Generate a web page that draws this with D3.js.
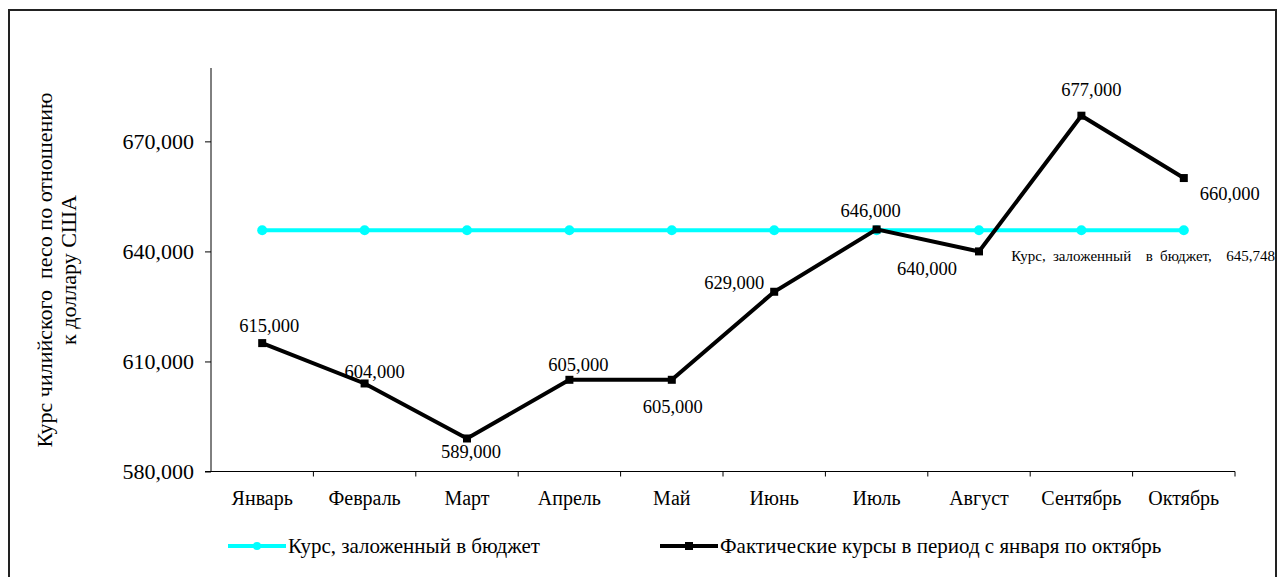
<!DOCTYPE html>
<html>
<head>
<meta charset="utf-8">
<script src="https://cdn.jsdelivr.net/npm/d3@7"></script>
<style>
	body { margin: 0; background: #fff; }
	svg text { font-family: "Liberation Serif", "Times New Roman", serif; fill: #000; }
</style>
</head>
<body>
<div class="line_chart"></div>
<script>
const WIDTH = 1278;
const HEIGHT = 577;
const MARGIN = { top: 68, right: 43, bottom: 106, left: 211 };

// data
const months = ['Январь', 'Февраль', 'Март', 'Апрель', 'Май', 'Июнь', 'Июль', 'Август', 'Сентябрь', 'Октябрь'];
const actual = [615000, 604000, 589000, 605000, 605000, 629000, 646000, 640000, 677000, 660000];
const budget = [645748, 645748, 645748, 645748, 645748, 645748, 645748, 645748, 645748, 645748];
const yTicks = [580000, 610000, 640000, 670000];
const seriesNames = ['Курс, заложенный в бюджет', 'Фактические курсы в период с января по октябрь'];

// where each data label sits relative to its point [dx, dy]
const labelPos = [[7, -11], [10, -5], [4, 20], [9, -9], [1, 33], [-40, -3], [-6, -12], [-52, 24], [10, -20], [46, 22]];

const svg = d3
	.select('.line_chart')
	.append('svg')
	.attr('width', WIDTH)
	.attr('height', HEIGHT);

// outer frame
svg.append('rect')
	.attr('x', 9)
	.attr('y', 10)
	.attr('width', 1267)
	.attr('height', 600)
	.attr('fill', 'none')
	.attr('stroke', '#222')
	.attr('stroke-width', 2);

const xScale = d3
	.scaleBand()
	.domain(months)
	.range([MARGIN.left, WIDTH - MARGIN.right])
	.padding(0);

const yScale = d3
	.scaleLinear()
	.domain([580000, 690000])
	.range([HEIGHT - MARGIN.bottom + 0.5, MARGIN.top]);

const fmt = d3.format(',.0f');
const cx = m => xScale(m) + xScale.bandwidth() / 2;

// axes
const yAxis = d3.axisLeft(yScale).tickValues(yTicks).tickFormat(fmt).tickSize(6).tickPadding(11);
const yG = svg.append('g')
	.attr('transform', `translate(${MARGIN.left}, 0)`)
	.call(yAxis)
	.attr('font-family', null);
yG.select('.domain').attr('d', `M-6,${yScale(580000)}H0V${MARGIN.top}`);
yG.selectAll('text').style('font-size', '22px');

const xAxis = d3.axisBottom(xScale).tickSize(0).tickPadding(19);
const xG = svg.append('g')
	.attr('transform', `translate(0, ${yScale(580000)})`)
	.call(xAxis)
	.attr('font-family', null);
xG.select('.domain').attr('d', `M${MARGIN.left},0H${WIDTH - MARGIN.right}V5`);
xG.selectAll('text').style('font-size', '20px');
svg.append('g')
	.selectAll('line')
	.data(months.slice(1))
	.enter()
	.append('line')
	.attr('x1', d => xScale(d))
	.attr('x2', d => xScale(d))
	.attr('y1', yScale(580000))
	.attr('y2', yScale(580000) + 5)
	.attr('stroke', '#000');
svg.selectAll('.domain, .tick line').attr('stroke', '#000');

// axis title
svg.append('text')
	.attr('transform', 'rotate(-90)')
	.attr('text-anchor', 'middle')
	.style('font-size', '22px')
	.selectAll('tspan')
	.data(['Курс чилийского  песо по отношению', 'к доллару США'])
	.enter()
	.append('tspan')
	.attr('x', -270)
	.attr('y', (d, i) => 52 + i * 24)
	.attr('xml:space', 'preserve')
	.text(d => d);

// budget line
const line = d3.line().x((d, i) => cx(months[i])).y(d => yScale(d));

svg.append('path')
	.datum(budget)
	.attr('d', line)
	.attr('fill', 'none')
	.attr('stroke', '#00ffff')
	.attr('stroke-width', 4);

svg.append('g')
	.selectAll('circle')
	.data(budget)
	.enter()
	.append('circle')
	.attr('cx', (d, i) => cx(months[i]))
	.attr('cy', d => yScale(d))
	.attr('r', 5)
	.attr('fill', '#00ffff');

// actual line
svg.append('path')
	.datum(actual)
	.attr('d', line)
	.attr('fill', 'none')
	.attr('stroke', '#000')
	.attr('stroke-width', 4)
	.attr('stroke-linejoin', 'miter');

svg.append('g')
	.selectAll('rect')
	.data(actual)
	.enter()
	.append('rect')
	.attr('x', (d, i) => cx(months[i]) - 4)
	.attr('y', d => yScale(d) - 4)
	.attr('width', 8)
	.attr('height', 8)
	.attr('fill', '#000');

// data labels
svg.append('g')
	.selectAll('text')
	.data(actual)
	.enter()
	.append('text')
	.attr('x', (d, i) => cx(months[i]) + labelPos[i][0])
	.attr('y', (d, i) => yScale(d) + labelPos[i][1])
	.attr('text-anchor', 'middle')
	.style('font-size', '18.5px')
	.text(d => fmt(d));

// budget label, last point
svg.append('text')
	.attr('x', WIDTH - 3)
	.attr('y', yScale(budget[budget.length - 1]) + 31)
	.attr('text-anchor', 'end')
	.attr('xml:space', 'preserve')
	.style('font-size', '15px')
	.style('word-spacing', '3.5px')
	.text('Курс, заложенный  в бюджет,  ' + d3.format(',')(budget[budget.length - 1]));

// legend
const legend = svg.append('g').attr('transform', 'translate(0, 546)');
const legendX = [228, 660];
const lg = legend.selectAll('g')
	.data(seriesNames)
	.enter()
	.append('g')
	.attr('transform', (d, i) => `translate(${legendX[i]}, 0)`);
lg.append('line')
	.attr('x1', 0)
	.attr('x2', 58)
	.attr('stroke', (d, i) => i ? '#000' : '#00ffff')
	.attr('stroke-width', 4);
lg.filter((d, i) => i === 0).append('circle').attr('cx', 29).attr('r', 4).attr('fill', '#00ffff');
lg.filter((d, i) => i === 1).append('rect').attr('x', 25).attr('y', -4).attr('width', 8).attr('height', 8).attr('fill', '#000');
lg.append('text')
	.attr('x', 60)
	.attr('y', 7)
	.style('font-size', '21px')
	.text(d => d);
</script>
</body>
</html>
